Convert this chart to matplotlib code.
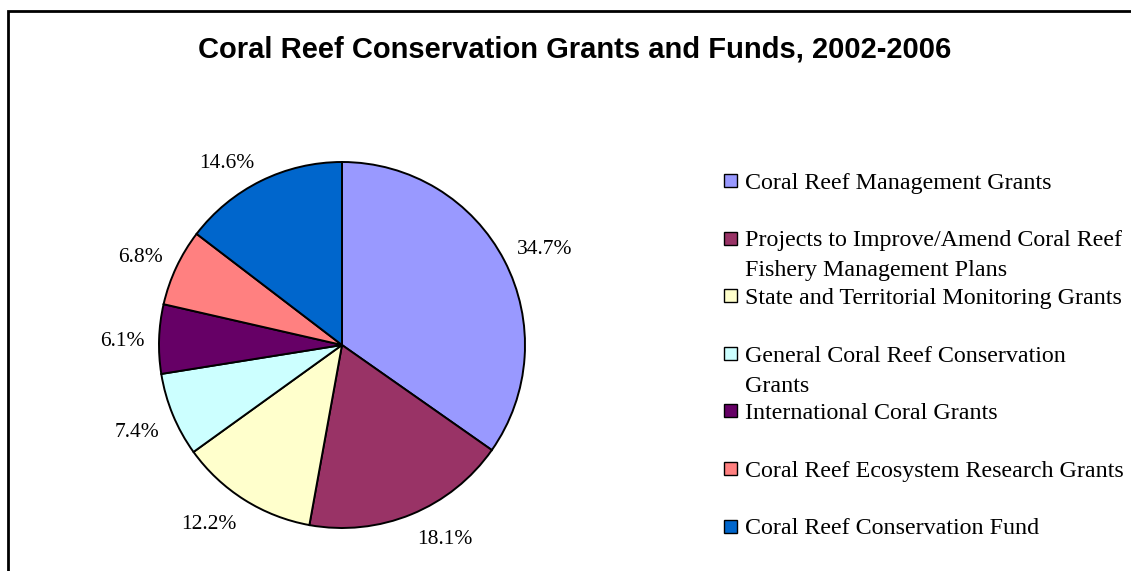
import numpy as np
import matplotlib.pyplot as plt
from matplotlib.patches import Rectangle

categories = [
    'Coral Reef Management Grants',
    'Projects to Improve/Amend Coral Reef\nFishery Management Plans',
    'State and Territorial Monitoring Grants',
    'General Coral Reef Conservation\nGrants',
    'International Coral Grants',
    'Coral Reef Ecosystem Research Grants',
    'Coral Reef Conservation Fund',
]
shares = [34.7, 18.1, 12.2, 7.4, 6.1, 6.8, 14.6]
colors = ['#9999FF', '#993366', '#FFFFCC', '#CCFFFF', '#660066', '#FF8080', '#0066CC']

W, H = 1131, 571
fig = plt.figure(figsize=(W / 100, H / 100), dpi=100)

# chart border (right and bottom edges fall outside the image)
fig.patches.append(Rectangle((8.3 / W, -0.1), 1.2, 1 - 10.5 / H + 0.1, transform=fig.transFigure,
                             fill=False, edgecolor='black', linewidth=2.0))

fig.text(574.5 / W, 1 - 58 / H, 'Coral Reef Conservation Grants and Funds, 2002-2006',
         ha='center', va='baseline', fontsize=21, fontweight='bold', family='Liberation Sans')

cx, cy, r = 342, 345, 183
ax = fig.add_axes([(cx - r) / W, 1 - (cy + r) / H, 2 * r / W, 2 * r / H])
wedges, _ = ax.pie(shares, colors=colors, startangle=90, counterclock=False,
                   wedgeprops=dict(edgecolor='black', linewidth=1.4))
ax.set_xlim(-1, 1)
ax.set_ylim(-1, 1)
ax.set_aspect('equal')

# percentage labels: box corner anchored just outside the slice middle (Excel style)
for w, v in zip(wedges, shares):
    a = np.deg2rad((w.theta1 + w.theta2) / 2)
    c, s = np.cos(a), np.sin(a)
    ax.annotate(f'{v:.1f}%', xy=(1.08 * c, 1.08 * s), xytext=(0, 8 * np.clip(3 * s, -1, 1) - 4),
                textcoords='offset pixels', ha='left' if c > 0 else 'right', va='center',
                fontsize=15.5, family='Liberation Serif', annotation_clip=False)

# legend, drawn by hand so the marker sits on the first line of wrapped entries
lx, ly0, step, line_h = 730, 180.5, 57.6, 30
for i, (lab, col) in enumerate(zip(categories, colors)):
    y = ly0 + i * step
    fig.patches.append(Rectangle(((lx - 6.5) / W, 1 - (y + 6.5) / H), 13 / W, 13 / H,
                                 transform=fig.transFigure, facecolor=col,
                                 edgecolor='black', linewidth=1.0))
    for k, line in enumerate(lab.split('\n')):
        fig.text((lx + 15) / W, 1 - (y + 8.3 + k * line_h) / H, line, ha='left', va='baseline',
                 fontsize=17.3, family='Liberation Serif')

fig.savefig('out.png', dpi=100)
